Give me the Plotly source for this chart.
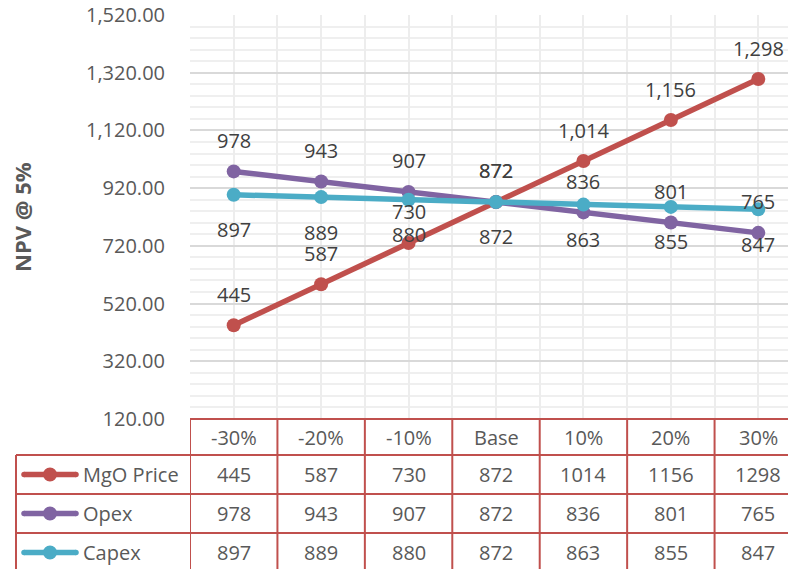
import plotly.graph_objects as go

categories = ["-30%", "-20%", "-10%", "Base", "10%", "20%", "30%"]
series_names = ["MgO Price", "Opex", "Capex"]
mgo_price = [445, 587, 730, 872, 1014, 1156, 1298]
opex = [978, 943, 907, 872, 836, 801, 765]
capex = [897, 889, 880, 872, 863, 855, 847]
colors = ["#C0504D", "#8064A2", "#4BACC6"]
label_side = [1, 1, -1]  # above / above / below
y_title = "NPV @ 5%"

series = [mgo_price, opex, capex]

FONT = "Open Sans"
W, H = 796, 569
OFF = 8  # page body margin offset
L, R, T, B = 182, 2, 7, 158
PW, PH = W - L - R, H - T - B

def xp(px):  # screen px -> paper
    return (px - OFF - L) / PW

def yp(py):  # screen px -> paper
    return (T + PH - (py - OFF)) / PH

fig = go.Figure()
xs = list(range(len(categories)))
for name, vals, col in zip(series_names, series, colors):
    fig.add_trace(go.Scatter(
        x=xs, y=vals, mode="lines+markers", name=name,
        line=dict(color=col, width=5.5),
        marker=dict(color=col, size=14),
        cliponaxis=False, showlegend=False, hoverinfo="skip"))

ann = []
for vals, side in zip(series, label_side):
    for i, v in enumerate(vals):
        ann.append(dict(x=i, y=v, xref="x", yref="y", text=f"{v:,}",
                        showarrow=False, yshift=31 if side > 0 else -35,
                        font=dict(family=FONT, size=20, color="#404040")))

border = "#C0504D"
bw = 2
shapes = []
row_top = [419, 455, 494, 533]
row_bot = [455, 494, 533, 572]
shapes.append(dict(type="line", xref="paper", yref="paper", x0=0, x1=1.01,
                   y0=yp(419), y1=yp(419), line=dict(color=border, width=bw)))
for py in [455, 494, 533]:
    shapes.append(dict(type="line", xref="paper", yref="paper", x0=xp(16), x1=1.01,
                       y0=yp(py), y1=yp(py), line=dict(color=border, width=bw)))
shapes.append(dict(type="line", xref="paper", yref="paper", x0=xp(16), x1=xp(16),
                   y0=yp(455), y1=yp(580), line=dict(color=border, width=bw)))
for i in range(len(categories) + 1):
    xb = i - 0.5
    shapes.append(dict(type="line", xref="x", yref="paper", x0=xb, x1=xb,
                       y0=yp(419), y1=yp(580), line=dict(color=border, width=bw)))

for i, c in enumerate(categories):
    ann.append(dict(x=i, y=yp((419 + 455) / 2), xref="x", yref="paper", text=c,
                    showarrow=False, yanchor="middle",
                    font=dict(family=FONT, size=20, color="#595959")))
for r, (name, vals, col) in enumerate(zip(series_names, series, colors)):
    cy = yp((row_top[r + 1] + row_bot[r + 1]) / 2)
    for i, v in enumerate(vals):
        ann.append(dict(x=i, y=cy, xref="x", yref="paper", text=str(v),
                        showarrow=False, yanchor="middle",
                        font=dict(family=FONT, size=20, color="#595959")))
    ann.append(dict(x=xp(81), y=cy, xref="paper", yref="paper", text=name,
                    showarrow=False, xanchor="left", yanchor="middle",
                    font=dict(family=FONT, size=20, color="#595959")))
    shapes.append(dict(type="line", xref="paper", yref="paper", x0=xp(24), x1=xp(76),
                       y0=cy, y1=cy, line=dict(color=col, width=5.5)))
    for cx, rad in [(24, 2.75), (76, 2.75), (50, 7)]:
        shapes.append(dict(type="circle", xref="paper", yref="paper",
                           xsizemode="pixel", ysizemode="pixel",
                           xanchor=xp(cx), yanchor=cy, x0=-rad, x1=rad, y0=-rad, y1=rad,
                           fillcolor=col, line=dict(width=0)))

ann.append(dict(x=xp(22), y=yp(217), xref="paper", yref="paper", text=f"<b>{y_title}</b>",
                textangle=-90, showarrow=False, xanchor="center", yanchor="middle",
                font=dict(family=FONT, size=22, color="#595959")))

fig.update_layout(
    width=W, height=H, margin=dict(l=L, r=R, t=T, b=B, pad=0, autoexpand=False),
    paper_bgcolor="white", plot_bgcolor="white",
    xaxis=dict(range=[-0.5, 6.5], tickmode="linear", tick0=-0.5, dtick=0.5,
               showticklabels=False, showgrid=True, gridcolor="#EDEDED", gridwidth=1.5,
               zeroline=False, showline=False, ticks="", automargin=False),
    yaxis=dict(range=[120, 1520], tickmode="linear", tick0=120, dtick=200,
               tickformat=",.2f", showgrid=True, gridcolor="#D9D9D9", gridwidth=1.5,
               zeroline=False, showline=False, ticks="", ticklabelstandoff=24,
               ticklabeloverflow="allow", automargin=False,
               tickfont=dict(family=FONT, size=20, color="#595959"),
               minor=dict(dtick=40, tick0=120, showgrid=True, gridcolor="#EFEFEF", gridwidth=1.5)),
    annotations=ann, shapes=shapes,
)

fig.write_html("out.html")
